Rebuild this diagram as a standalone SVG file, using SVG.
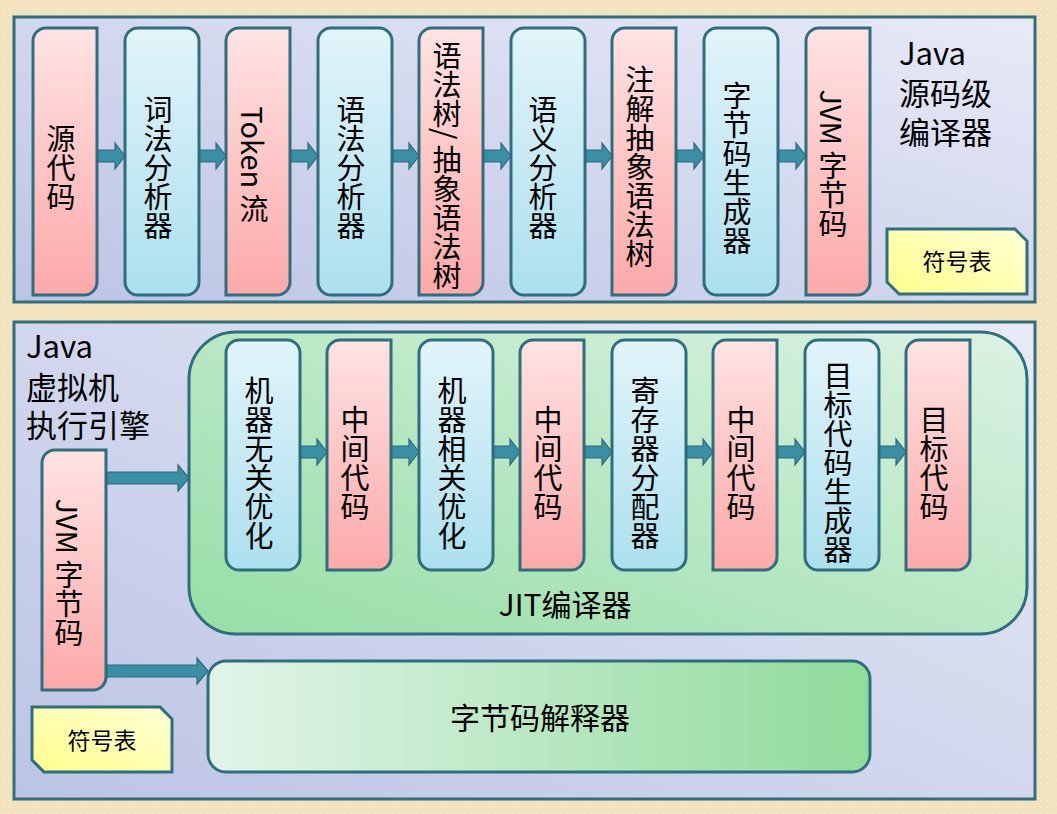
<svg xmlns="http://www.w3.org/2000/svg" width="1057" height="814" viewBox="0 0 1057 814">
  <defs>
    <pattern id="paper" width="6" height="6" patternUnits="userSpaceOnUse">
      <rect width="6" height="6" fill="#f5e7c4"/>
      <rect x="1" y="1" width="4" height="4" fill="none" stroke="#eedcb2" stroke-width="0.8"/>
    </pattern>
    <linearGradient id="panel" x1="1" y1="0" x2="0" y2="1">
      <stop offset="0" stop-color="#e8eaf6"/>
      <stop offset="1" stop-color="#bcc4e5"/>
    </linearGradient>
    <linearGradient id="pink" x1="0" y1="0" x2="0" y2="1">
      <stop offset="0" stop-color="#ffe3e3"/>
      <stop offset="1" stop-color="#fca9a9"/>
    </linearGradient>
    <linearGradient id="blue" x1="0" y1="0" x2="0" y2="1">
      <stop offset="0" stop-color="#e2f4fa"/>
      <stop offset="1" stop-color="#ace0ee"/>
    </linearGradient>
    <linearGradient id="jit" x1="1" y1="0" x2="0" y2="1">
      <stop offset="0" stop-color="#dcf2e3"/>
      <stop offset="1" stop-color="#96dea6"/>
    </linearGradient>
    <linearGradient id="interp" x1="0" y1="0" x2="1" y2="0">
      <stop offset="0" stop-color="#e2f4e9"/>
      <stop offset="1" stop-color="#90db9b"/>
    </linearGradient>
    <linearGradient id="yellow" x1="1" y1="0" x2="0" y2="1">
      <stop offset="0" stop-color="#ffffd6"/>
      <stop offset="1" stop-color="#ffff8c"/>
    </linearGradient>
  </defs>
  <style>
    .frame { stroke: #2e6e7e; stroke-width: 3; }
    .box { stroke: #2e6e7e; stroke-width: 3; }
    .pk { fill: url(#pink); }
    .bl { fill: url(#blue); }
    .arrow { fill: #3a8fa5; stroke: #2c6b7a; stroke-width: 1.2; stroke-linejoin: miter; }
    text { font-family: "Noto Sans CJK SC", "Noto Sans", "DejaVu Sans", sans-serif; fill: #000; }
    .v { font-size: 29px; writing-mode: vertical-rl; text-anchor: middle; }
    .lbl { font-size: 31px; }
    .mid { font-size: 30px; text-anchor: middle; }
    .sym { font-size: 23px; text-anchor: middle; }
  </style>

  <!-- paper background -->
  <rect width="1057" height="814" fill="url(#paper)"/>

  <!-- source-level compiler panel -->
  <g id="compiler-panel">
    <rect class="frame" x="14" y="17" width="1021" height="285" fill="url(#panel)"/>
    <text class="lbl" x="899" y="65">Java</text>
    <text class="lbl" x="899" y="105">源码级</text>
    <text class="lbl" x="899" y="144">编译器</text>
  </g>

  <!-- execution engine panel -->
  <g id="engine-panel">
    <rect class="frame" x="14" y="322" width="1021" height="477" fill="url(#panel)"/>
    <text class="lbl" x="26" y="358">Java</text>
    <text class="lbl" x="26" y="399">虚拟机</text>
    <text class="lbl" x="26" y="437">执行引擎</text>
  </g>

  <!-- JIT compiler container -->
  <g id="jit">
    <rect class="frame" x="189" y="332" width="838" height="302" rx="47" ry="47" fill="url(#jit)"/>
    <text class="mid" x="565" y="616">JIT编译器</text>
  </g>

  <!-- interpreter -->
  <g id="interpreter">
    <rect class="frame" x="208" y="661" width="662" height="111" rx="18" ry="18" fill="url(#interp)"/>
    <text class="mid" x="540" y="729">字节码解释器</text>
  </g>

  <!-- symbol tables -->
  <g id="symtab-top">
    <path class="box" d="M887,229 H1015 L1027,241 V294 H899 L887,282 Z" fill="url(#yellow)"/>
    <text class="sym" x="957" y="270">符号表</text>
  </g>
  <g id="symtab-bottom">
    <path class="box" d="M32,707 H160 L172,719 V772 H44 L32,760 Z" fill="url(#yellow)"/>
    <text class="sym" x="102" y="749">符号表</text>
  </g>

  <!-- top row stages -->
  <g id="n-source">
    <path class="box pk" d="M33,41 A13,13 0 0 1 46,28 H97 V282 A13,13 0 0 1 84,295 H33 Z"/>
    <text class="v" x="61" y="168">源代码</text>
  </g>
  <g id="n-lexer">
    <rect class="box bl" x="125" y="28" width="74" height="267" rx="13" ry="13"/>
    <text class="v" x="158" y="168">词法分析器</text>
  </g>
  <g id="n-token">
    <path class="box pk" d="M226,41 A13,13 0 0 1 239,28 H290 V282 A13,13 0 0 1 277,295 H226 Z"/>
    <text class="v" x="254" y="165">Token 流</text>
  </g>
  <g id="n-parser">
    <rect class="box bl" x="318" y="28" width="74" height="267" rx="13" ry="13"/>
    <text class="v" x="351" y="168">语法分析器</text>
  </g>
  <g id="n-ast">
    <path class="box pk" d="M419,41 A13,13 0 0 1 432,28 H483 V282 A13,13 0 0 1 470,295 H419 Z"/>
    <text class="v" x="447" y="166">语法树/ 抽象语法树</text>
  </g>
  <g id="n-semantic">
    <rect class="box bl" x="511" y="28" width="74" height="267" rx="13" ry="13"/>
    <text class="v" x="543" y="168">语义分析器</text>
  </g>
  <g id="n-annotated">
    <path class="box pk" d="M612,41 A13,13 0 0 1 625,28 H676 V282 A13,13 0 0 1 663,295 H612 Z"/>
    <text class="v" x="640" y="167">注解抽象语法树</text>
  </g>
  <g id="n-codegen">
    <rect class="box bl" x="704" y="28" width="74" height="267" rx="13" ry="13"/>
    <text class="v" x="737" y="168">字节码生成器</text>
  </g>
  <g id="n-bytecode">
    <path class="box pk" d="M806,41 A13,13 0 0 1 819,28 H870 V282 A13,13 0 0 1 857,295 H806 Z"/>
    <text class="v" x="833" y="164">JVM 字节码</text>
  </g>

  <!-- JIT stages -->
  <g id="n-opt-indep">
    <rect class="box bl" x="226" y="340" width="74" height="230" rx="13" ry="13"/>
    <text class="v" x="259" y="463">机器无关优化</text>
  </g>
  <g id="n-ir1">
    <path class="box pk" d="M327,353 A13,13 0 0 1 340,340 H391 V557 A13,13 0 0 1 378,570 H327 Z"/>
    <text class="v" x="355" y="463">中间代码</text>
  </g>
  <g id="n-opt-dep">
    <rect class="box bl" x="419" y="340" width="74" height="230" rx="13" ry="13"/>
    <text class="v" x="452" y="463">机器相关优化</text>
  </g>
  <g id="n-ir2">
    <path class="box pk" d="M520,353 A13,13 0 0 1 533,340 H584 V557 A13,13 0 0 1 571,570 H520 Z"/>
    <text class="v" x="548" y="463">中间代码</text>
  </g>
  <g id="n-regalloc">
    <rect class="box bl" x="612" y="340" width="74" height="230" rx="13" ry="13"/>
    <text class="v" x="645" y="463">寄存器分配器</text>
  </g>
  <g id="n-ir3">
    <path class="box pk" d="M713,353 A13,13 0 0 1 726,340 H777 V557 A13,13 0 0 1 764,570 H713 Z"/>
    <text class="v" x="741" y="463">中间代码</text>
  </g>
  <g id="n-target-gen">
    <rect class="box bl" x="805" y="340" width="74" height="230" rx="13" ry="13"/>
    <text class="v" x="838" y="463">目标代码生成器</text>
  </g>
  <g id="n-target">
    <path class="box pk" d="M906,353 A13,13 0 0 1 919,340 H970 V557 A13,13 0 0 1 957,570 H906 Z"/>
    <text class="v" x="934" y="463">目标代码</text>
  </g>

  <!-- bytecode entering the engine -->
  <g id="n-engine-bytecode">
    <path class="box pk" d="M42,463 A13,13 0 0 1 55,450 H106 V677 A13,13 0 0 1 93,690 H42 Z"/>
    <text class="v" x="69" y="573">JVM 字节码</text>
  </g>

  <!-- connectors: block arrows -->
  <g id="connectors">
    <!-- compiler pipeline, centre line y=156 -->
    <path class="arrow" d="M98,150 H115 V143 L125,156 L115,169 V162 H98 Z"/>
    <path class="arrow" d="M200,150 H216 V143 L226,156 L216,169 V162 H200 Z"/>
    <path class="arrow" d="M291,150 H308 V143 L318,156 L308,169 V162 H291 Z"/>
    <path class="arrow" d="M393,150 H409 V143 L419,156 L409,169 V162 H393 Z"/>
    <path class="arrow" d="M484,150 H501 V143 L511,156 L501,169 V162 H484 Z"/>
    <path class="arrow" d="M586,150 H602 V143 L612,156 L602,169 V162 H586 Z"/>
    <path class="arrow" d="M677,150 H694 V143 L704,156 L694,169 V162 H677 Z"/>
    <path class="arrow" d="M779,150 H796 V143 L806,156 L796,169 V162 H779 Z"/>
    <!-- JIT pipeline, centre line y=452 -->
    <path class="arrow" d="M301,446 H317 V439 L327,452 L317,465 V458 H301 Z"/>
    <path class="arrow" d="M392,446 H409 V439 L419,452 L409,465 V458 H392 Z"/>
    <path class="arrow" d="M494,446 H510 V439 L520,452 L510,465 V458 H494 Z"/>
    <path class="arrow" d="M585,446 H602 V439 L612,452 L602,465 V458 H585 Z"/>
    <path class="arrow" d="M687,446 H703 V439 L713,452 L703,465 V458 H687 Z"/>
    <path class="arrow" d="M778,446 H795 V439 L805,452 L795,465 V458 H778 Z"/>
    <path class="arrow" d="M880,446 H896 V439 L906,452 L896,465 V458 H880 Z"/>
    <!-- bytecode to JIT and to interpreter -->
    <path class="arrow" d="M107,472 H178 V465 L189,478 L178,491 V484 H107 Z"/>
    <path class="arrow" d="M107,665 H197 V658 L208,671 L197,684 V677 H107 Z"/>
  </g>
</svg>
